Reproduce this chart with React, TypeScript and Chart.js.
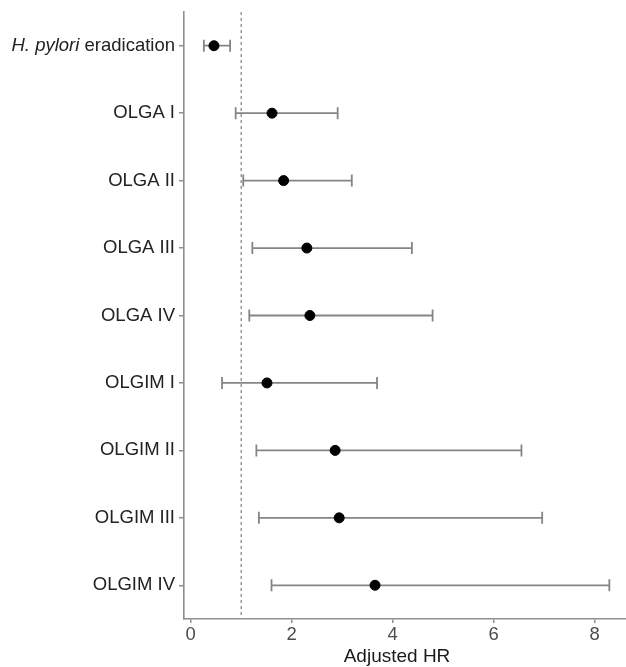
import React, { useEffect, useRef } from "react";
import { Chart, registerables } from "chart.js";

Chart.register(...registerables);

const categories = [
  "H. pylori eradication",
  "OLGA I",
  "OLGA II",
  "OLGA III",
  "OLGA IV",
  "OLGIM I",
  "OLGIM II",
  "OLGIM III",
  "OLGIM IV",
];
const hr = [0.46, 1.61, 1.84, 2.3, 2.36, 1.51, 2.86, 2.94, 3.65];
const lower = [0.26, 0.89, 1.04, 1.22, 1.16, 0.62, 1.3, 1.35, 1.6];
const upper = [0.78, 2.91, 3.19, 4.38, 4.79, 3.69, 6.55, 6.96, 8.29];
const xTicks = [0, 2, 4, 6, 8];
const refLine = 1;
const xTitle = "Adjusted HR";

const FONT = "'Liberation Sans', Arial, sans-serif";
const AXIS_GRAY = "#8f8f8f";
const BAR_GRAY = "#858585";
const LABEL_SIZE = 18.5;

export default function App() {
  const ref = useRef<HTMLCanvasElement | null>(null);

  useEffect(() => {
    if (!ref.current) return;
    const overlay = {
      id: "forest",
      beforeDatasetsDraw(chart: any) {
        const { ctx, chartArea, scales } = chart;
        const xs = scales.x;
        const ys = scales.y;
        ctx.save();
        const rx = xs.getPixelForValue(refLine);
        ctx.strokeStyle = "#9a9a9a";
        ctx.lineWidth = 1.5;
        ctx.setLineDash([3, 3]);
        ctx.beginPath();
        ctx.moveTo(rx, chartArea.top);
        ctx.lineTo(rx, chartArea.bottom);
        ctx.stroke();
        ctx.setLineDash([]);
        ctx.strokeStyle = BAR_GRAY;
        ctx.lineWidth = 1.8;
        for (let i = 0; i < categories.length; i++) {
          const y = ys.getPixelForValue(i);
          const x0 = xs.getPixelForValue(lower[i]);
          const x1 = xs.getPixelForValue(upper[i]);
          ctx.beginPath();
          ctx.moveTo(x0, y);
          ctx.lineTo(x1, y);
          ctx.moveTo(x0, y - 6);
          ctx.lineTo(x0, y + 6);
          ctx.moveTo(x1, y - 6);
          ctx.lineTo(x1, y + 6);
          ctx.stroke();
        }
        ctx.restore();
      },
      afterDraw(chart: any) {
        const { ctx, chartArea, scales } = chart;
        const ys = scales.y;
        ctx.save();
        const y = ys.getPixelForValue(0);
        const right = chartArea.left - 9;
        ctx.fillStyle = "#222222";
        ctx.textBaseline = "middle";
        ctx.font = `${LABEL_SIZE}px ${FONT}`;
        const normal = " eradication";
        const wN = ctx.measureText(normal).width;
        ctx.textAlign = "right";
        ctx.fillText(normal, right, y);
        ctx.font = `italic ${LABEL_SIZE}px ${FONT}`;
        ctx.fillText("H. pylori", right - wN, y);
        ctx.font = `19px ${FONT}`;
        ctx.textAlign = "center";
        ctx.fillStyle = "#1a1a1a";
        ctx.fillText(xTitle, 397, 657);
        ctx.restore();
      },
    };

    const chart = new Chart(ref.current, {
      type: "scatter",
      data: {
        datasets: [
          {
            data: hr.map((v, i) => ({ x: v, y: i })),
            backgroundColor: "#000000",
            borderColor: "#000000",
            pointRadius: 5,
            pointHoverRadius: 5,
          },
        ],
      },
      options: {
        animation: false,
        responsive: false,
        events: [],
        layout: { autoPadding: false, padding: { top: 12, right: 0, left: 0, bottom: 0 } },
        plugins: {
          legend: { display: false },
          tooltip: { enabled: false },
        },
        scales: {
          x: {
            type: "linear",
            min: -0.133,
            max: 8.62,
            afterBuildTicks: (s: any) => {
              s.ticks = xTicks.map((v) => ({ value: v }));
            },
            afterFit: (s: any) => {
              s.height = 48;
              s.paddingLeft = 0;
              s.paddingRight = 0;
            },
            grid: {
              drawOnChartArea: false,
              drawTicks: true,
              tickLength: 4,
              color: AXIS_GRAY,
              lineWidth: 1.5,
            },
            border: { display: true, color: AXIS_GRAY, width: 1.6 },
            ticks: {
              color: "#4d4d4d",
              font: { family: FONT, size: LABEL_SIZE },
              padding: 1,
              maxRotation: 0,
            },
          },
          y: {
            type: "linear",
            reverse: true,
            min: -0.5,
            max: 8.5,
            afterBuildTicks: (s: any) => {
              s.ticks = categories.map((_, i) => ({ value: i }));
            },
            afterFit: (s: any) => {
              s.width = 184;
              s.paddingTop = 0;
              s.paddingBottom = 0;
            },
            grid: {
              drawOnChartArea: false,
              drawTicks: true,
              tickLength: 5,
              color: AXIS_GRAY,
              lineWidth: 1.5,
            },
            border: { display: true, color: AXIS_GRAY, width: 1.6 },
            ticks: {
              color: "#222222",
              font: { family: FONT, size: LABEL_SIZE },
              padding: 4,
              callback: (v: any) => (v === 0 ? "" : categories[v as number]),
            },
          },
        },
      },
      plugins: [overlay],
    });
    return () => chart.destroy();
  }, []);

  return (
    <div style={{ position: "fixed", left: 0, top: 0, width: 626, height: 667, background: "#fff" }}>
      <canvas ref={ref} width={626} height={667} style={{ display: "block" }} />
    </div>
  );
}
